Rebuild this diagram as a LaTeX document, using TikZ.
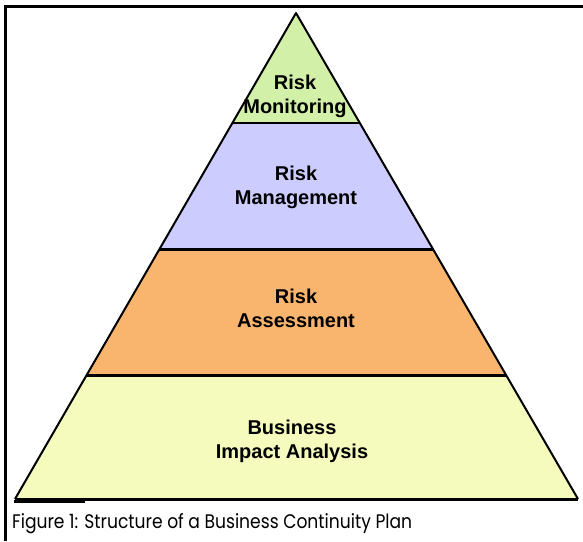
\documentclass[tikz,border=0pt]{standalone}
\usepackage{fontspec}
\setmainfont{Liberation Sans}
\newfontfamily\capfont{Poppins}
\usetikzlibrary{calc}
\definecolor{lvgreen}{HTML}{D3F0A8}
\definecolor{lvblue}{HTML}{CCCCFF}
\definecolor{lvorange}{HTML}{F9B46E}
\definecolor{lvyellow}{HTML}{F5FBBC}
\tikzset{
  layerlabel/.style={font=\bfseries\fontsize{20}{24}\selectfont, align=center, inner sep=0pt},
  edge/.style={line width=2pt, line join=round},
  divider/.style={line width=3pt},
  frame/.style={line width=3pt},
}
\begin{document}
\begin{tikzpicture}[x=1pt,y=-1pt]
\useasboundingbox (0,0) rectangle (583,541);
\fill[white] (0,0) rectangle (583,541);
\coordinate (A) at (296,13);
\coordinate (BL) at (15,499);
\coordinate (BR) at (578,499);
\coordinate (L1) at ($(A)!0.2263!(BL)$);
\coordinate (R1) at ($(A)!0.2263!(BR)$);
\coordinate (L2) at ($(A)!0.4856!(BL)$);
\coordinate (R2) at ($(A)!0.4856!(BR)$);
\coordinate (L3) at ($(A)!0.7449!(BL)$);
\coordinate (R3) at ($(A)!0.7449!(BR)$);
% layers
\fill[lvgreen] (A) -- (R1) -- (L1) -- cycle;
\fill[lvblue] (L1) -- (R1) -- (R2) -- (L2) -- cycle;
\fill[lvorange] (L2) -- (R2) -- (R3) -- (L3) -- cycle;
\fill[lvyellow] (L3) -- (R3) -- (BR) -- (BL) -- cycle;
% dividers
\draw[line width=2pt] (L1) -- (R1);
\draw[divider] (L2) -- (R2);
\draw[divider] (L3) -- (R3);
\draw[divider] (BL) -- (BR);
\draw[line width=3pt] (14,501) -- (85,501);
% outline
\draw[edge] (BL) -- (A) -- (BR);
% labels
\node[layerlabel] (mon) at (295,96) {Risk\\Monitoring};
\node[layerlabel] (man) at (296,187) {Risk\\Management};
\node[layerlabel] (ass) at (296,308) {Risk\\Assessment};
\node[layerlabel] (bia) at (292,441) {Business\\Impact Analysis};
% frame
\draw[frame] (5.5,541) -- (5.5,6.5) -- (583,6.5);
% caption
\node[anchor=base west, inner sep=0pt] (cap) at (12,528) {\resizebox{400pt}{15pt}{\capfont Figure 1: Structure of a Business Continuity Plan}};
\end{tikzpicture}
\end{document}
